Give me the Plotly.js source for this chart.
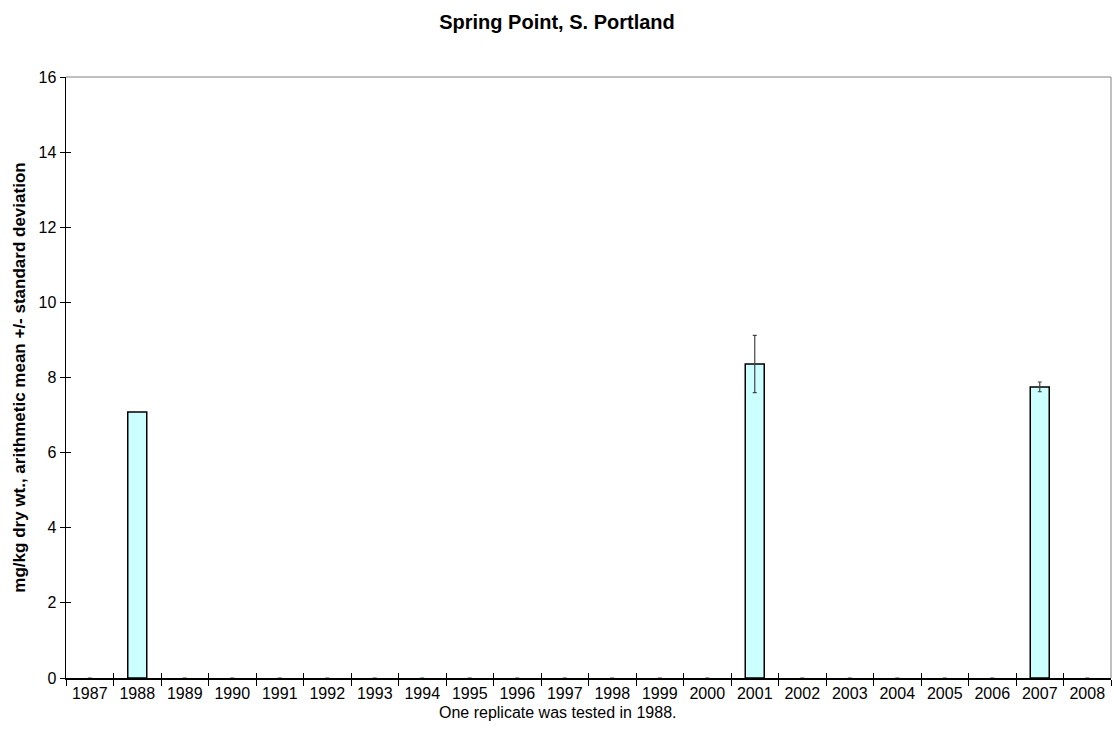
<!DOCTYPE html>
<html>
<head>
<meta charset="utf-8">
<script src="https://cdn.plot.ly/plotly-3.0.1.min.js"></script>
<style>html,body{margin:0;padding:0;background:#fff;}#chart{width:1114px;height:744px;}</style>
</head>
<body>
<div id="chart"></div>
<script>
const years = ['1987','1988','1989','1990','1991','1992','1993','1994','1995','1996','1997','1998','1999','2000','2001','2002','2003','2004','2005','2006','2007','2008'];
const means = [0, 7.08, 0, 0, 0, 0, 0, 0, 0, 0, 0, 0, 0, 0, 8.36, 0, 0, 0, 0, 0, 7.75, 0];
const sds   = [0, 0.0, 0, 0, 0, 0, 0, 0, 0, 0, 0, 0, 0, 0, 0.76, 0, 0, 0, 0, 0, 0.13, 0];
const yTicks = [0, 2, 4, 6, 8, 10, 12, 14, 16];
const xTitle = 'One replicate was tested in 1988.';

const trace = {
  type: 'bar',
  x: years,
  y: means,
  marker: {color: '#CCFFFF', line: {color: '#000000', width: means.map(v => v > 0 ? 1.5 : 0)}},
  error_y: {type: 'data', array: sds, visible: true, color: '#444444', thickness: 1.2, width: 2},
  hoverinfo: 'x+y'
};

const font = {family: 'Liberation Sans, Arial, sans-serif', color: '#000', size: 16};

const layout = {
  width: 1114, height: 744,
  margin: {l: 66, r: 3, t: 77, b: 66},
  paper_bgcolor: '#fff', plot_bgcolor: '#fff',
  font: font,
  showlegend: false,
  bargap: 0.6,
  title: {text: '<b>Spring Point, S. Portland</b>', font: {family: font.family, size: 20, color: '#000'}, x: 0.5, xanchor: 'center', y: 0.97, yanchor: 'middle'},
  xaxis: {
    type: 'category', tickvals: years, ticktext: years,
    showline: true, linecolor: '#000', linewidth: 1.5,
    ticks: 'outside', ticklen: 6, tickcolor: '#000', tickwidth: 1, tickson: 'boundaries',
    showgrid: false, zeroline: false,
    tickfont: {size: 16}
  },
  xaxis2: {
    type: 'category', overlaying: 'x', matches: 'x', side: 'bottom',
    showline: false, ticks: 'inside', ticklen: 5, tickcolor: '#000', tickwidth: 1, tickson: 'boundaries',
    showticklabels: false, showgrid: false, zeroline: false, anchor: 'y'
  },
  yaxis: {
    range: [0, 16], tickvals: yTicks, ticktext: yTicks.map(String),
    showline: true, linecolor: '#000', linewidth: 1.5,
    ticks: 'outside', ticklen: 5, tickcolor: '#000', tickwidth: 1,
    showgrid: false, zeroline: false,
    tickfont: {size: 16},
    title: {text: '<b>mg/kg dry wt., arithmetic mean +/- standard deviation</b>', font: {size: 17}, standoff: 8}
  },
  yaxis2: {
    range: [0, 16], overlaying: 'y', matches: 'y', tickvals: yTicks,
    showline: false, ticks: 'inside', ticklen: 5, tickcolor: '#000', tickwidth: 1,
    showticklabels: false, showgrid: false, zeroline: false, anchor: 'x'
  },
  annotations: [
    {text: xTitle, xref: 'paper', yref: 'paper', x: 0.47, y: -0.04, xanchor: 'center', yanchor: 'top', showarrow: false, font: {size: 16, color: '#000'}}
  ],
  shapes: [
    {type: 'line', xref: 'paper', yref: 'paper', x0: 0, x1: 1, y0: 1, y1: 1, line: {color: '#808080', width: 1}},
    {type: 'line', xref: 'paper', yref: 'paper', x0: 1, x1: 1, y0: 0, y1: 1, line: {color: '#808080', width: 1}}
  ]
};

const ghost = {type: 'bar', x: years, y: means.map(() => null), xaxis: 'x2', yaxis: 'y2', hoverinfo: 'skip', showlegend: false};

Plotly.newPlot('chart', [trace, ghost], layout, {displayModeBar: false, staticPlot: true});
</script>
</body>
</html>
